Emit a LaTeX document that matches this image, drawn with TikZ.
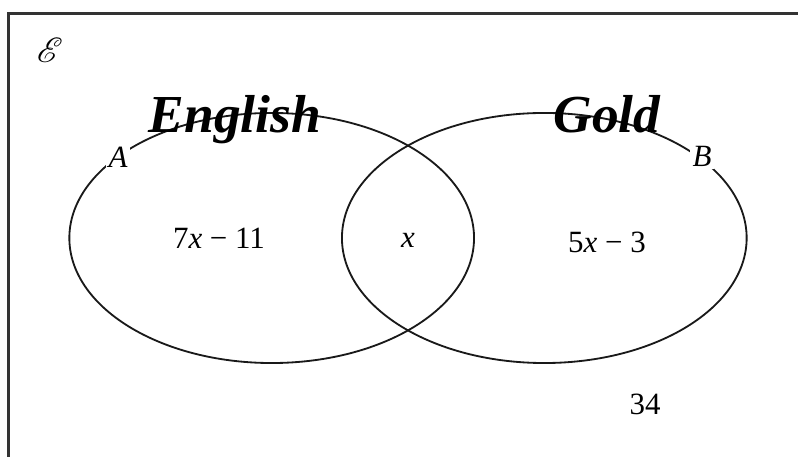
\documentclass[tikz,border=0pt]{standalone}
\usepackage{fontspec}
\usepackage{mathrsfs}
\setmainfont{Liberation Serif}
\usetikzlibrary{shapes.geometric, positioning}
\tikzset{
  vset/.style={ellipse, draw=black!90, line width=1.3pt, minimum width=10.115cm,
              minimum height=6.25cm, inner sep=0pt},
  region/.style={font=\fontsize{22}{26}\selectfont, inner sep=1pt},
  setlabel/.style={font=\fontsize{22}{26}\selectfont\itshape, fill=white, inner sep=2pt},
  scrawl/.style={font=\fontsize{38}{44}\selectfont\bfseries\itshape, inner sep=0pt, anchor=base},
  frameline/.style={draw=black!80, line width=1.8pt},
}

\begin{document}
\begin{tikzpicture}[x=0.025cm, y=-0.025cm]
  \useasboundingbox (0,0) rectangle (798,457);
  \coordinate (fbl) at (8.5,457);
  \coordinate (ftl) at (8.5,13.5);
  \coordinate (ftr) at (798,13.5);
  \draw[frameline] (fbl) -- (ftl) -- (ftr);
  \node (univ) at (50,50) {\fontsize{26}{30}\selectfont$\mathscr{E}$};
  \node[vset] (setA) at (271.7,238) {};
  \node[vset] (setB) at (544.3,238) {};
  \node[setlabel] (labA) at (118,157) {A};
  \node[setlabel] (labB) at (702,156) {B};
  \node[region] (onlyA) at (219,238) {7\textit{x} − 11};
  \node[region] (both) at (408,240) {\textit{x}};
  \node[region] (onlyB) at (607,242) {5\textit{x} − 3};
  \node[region] (outside) at (645,404) {34};
  \node[scrawl] (eng) at (235,133) {English};
  \node[scrawl] (gold) at (607,133) {Gold};
\end{tikzpicture}
\end{document}
